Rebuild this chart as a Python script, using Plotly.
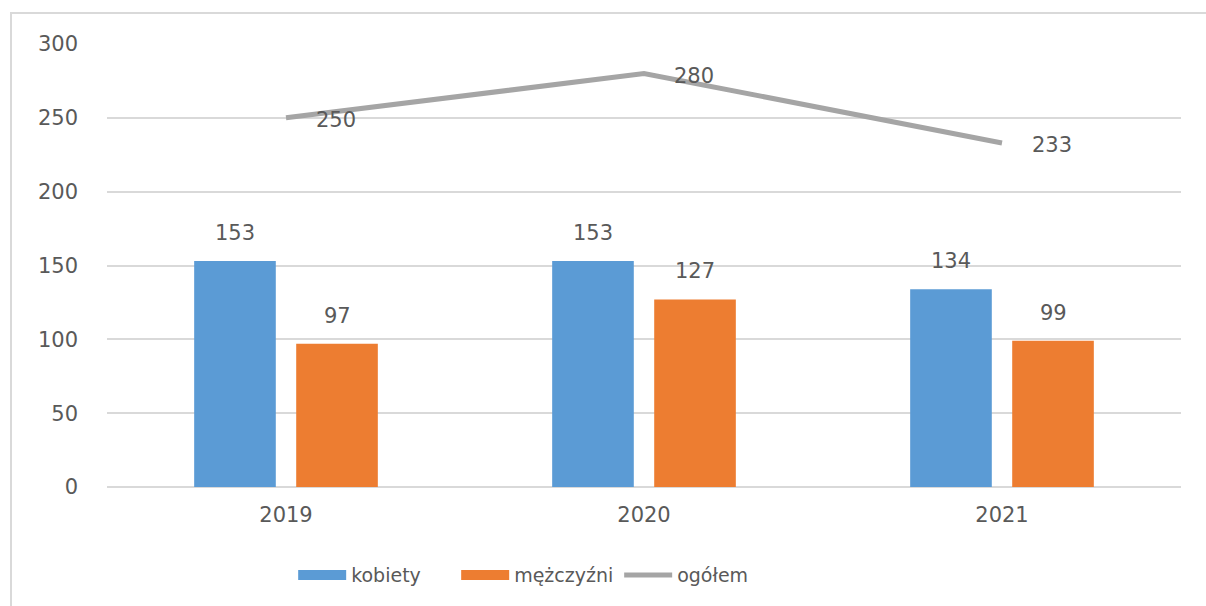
import plotly.graph_objects as go

years = ["2019", "2020", "2021"]
kobiety = [153, 153, 134]
mezczyzni = [97, 127, 99]
ogolem = [250, 280, 233]
y_ticks = [0, 50, 100, 150, 200, 250, 300]

BLUE = "#5B9BD5"
ORANGE = "#ED7D31"
GRAY = "#A5A5A5"
TEXT = "#595959"
GRID = "#D9D9D9"
FONT = "DejaVu Sans"

fig = go.Figure()

fig.add_trace(go.Bar(x=years, y=kobiety, name="kobiety", marker_color=BLUE,
                     marker_line_width=0, showlegend=False))
fig.add_trace(go.Bar(x=years, y=mezczyzni, name="mężczyźni", marker_color=ORANGE,
                     marker_line_width=0, showlegend=False))
fig.add_trace(go.Scatter(x=years, y=ogolem, name="ogółem", mode="lines",
                         line=dict(color=GRAY, width=5), showlegend=False))

# legend entries drawn as thick lines so they look like the wide swatches
for name, color, width in [("kobiety", BLUE, 13), ("mężczyźni", ORANGE, 13), ("ogółem", GRAY, 5)]:
    fig.add_trace(go.Scatter(x=[years[0]], y=[None], mode="lines", name=name,
                             line=dict(color=color, width=width)))

# value labels (x given as category index, numeric-looking names would be read as numbers)
half_slot = 51
for i in range(len(years)):
    fig.add_annotation(x=i, y=kobiety[i], text=str(kobiety[i]), showarrow=False,
                       xshift=-half_slot, yshift=14, yanchor="bottom")
    fig.add_annotation(x=i, y=mezczyzni[i], text=str(mezczyzni[i]), showarrow=False,
                       xshift=half_slot, yshift=14, yanchor="bottom")
    fig.add_annotation(x=i, y=ogolem[i], text=str(ogolem[i]), showarrow=False,
                       xanchor="left", yanchor="middle", xshift=28, yshift=-2)

# outer border of the chart area
fig.add_shape(type="rect", xref="paper", yref="paper",
              x0=-0.0894, x1=1.05, y0=-0.3, y1=1.07,
              line=dict(color=GRID, width=2), fillcolor="rgba(0,0,0,0)", layer="below")

fig.update_layout(
    width=1206, height=606,
    margin=dict(l=107, r=25, t=44, b=119),
    paper_bgcolor="white", plot_bgcolor="white",
    font=dict(family=FONT, size=21, color=TEXT),
    barmode="group", bargap=0.43, bargroupgap=0.2,
    legend=dict(orientation="h", x=0.401, xanchor="center", y=-0.199, yanchor="middle",
                font=dict(family=FONT, size=19, color=TEXT), itemwidth=48,
                entrywidth=100, entrywidthmode="pixels"),
    showlegend=True,
)
fig.update_annotations(font=dict(family=FONT, size=21, color=TEXT))
fig.update_xaxes(type="category", range=[-0.5, 2.5], showgrid=False, showline=False,
                 ticks="", ticklabelstandoff=13, tickfont=dict(size=21, color=TEXT))
fig.update_yaxes(range=[0, 300], tickvals=y_ticks, showgrid=True, gridcolor=GRID, gridwidth=1.5,
                 zeroline=True, zerolinecolor=GRID, zerolinewidth=1.5, showline=False,
                 ticks="", ticklabelstandoff=28, tickfont=dict(size=21, color=TEXT))

fig.write_html("out.html", post_script="document.body.style.margin='0';",
               config=dict(displayModeBar=False))
